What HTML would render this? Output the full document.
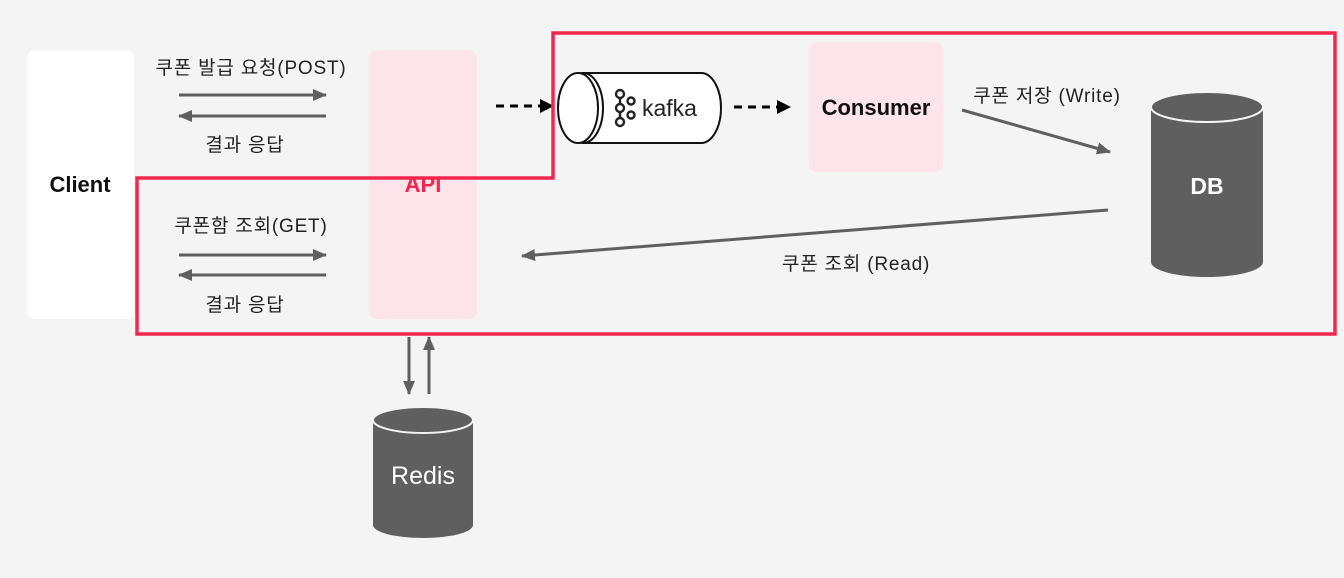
<!DOCTYPE html>
<html><head><meta charset="utf-8"><style>
body{margin:0;width:1344px;height:578px;background:#f4f4f4;overflow:hidden;font-family:"Liberation Sans","Noto Sans CJK KR",sans-serif}
</style></head><body>
<svg width="1344" height="578" viewBox="0 0 1344 578" xmlns="http://www.w3.org/2000/svg" style="position:absolute;left:0;top:0">
<defs>
<marker id="ag" markerWidth="14" markerHeight="12" refX="13" refY="6" orient="auto" markerUnits="userSpaceOnUse"><path d="M0,0 L14,6 L0,12 z" fill="#5f5f5f"/></marker>
<marker id="ak" markerWidth="14" markerHeight="14" refX="13" refY="7" orient="auto" markerUnits="userSpaceOnUse"><path d="M0,0 L14,7 L0,14 z" fill="#000"/></marker>
</defs>
<rect x="27" y="50" width="107" height="269" rx="8" fill="#fff"/>
<rect x="369" y="50" width="108" height="269" rx="8" fill="#fde4ea"/>
<rect x="809" y="42" width="134" height="130" rx="8" fill="#fde4ea"/>
<text x="80" y="192" font-size="22" font-weight="bold" text-anchor="middle" fill="#111">Client</text>
<text x="423" y="192" font-size="22" font-weight="bold" text-anchor="middle" fill="#f0264f">API</text>
<text x="876" y="115" font-size="22" font-weight="bold" text-anchor="middle" fill="#111">Consumer</text>
<g font-size="19" fill="#222" text-anchor="middle" letter-spacing="0.8">
<text x="251" y="74">쿠폰 발급 요청(POST)</text>
<text x="245" y="151">결과 응답</text>
<text x="251" y="232">쿠폰함 조회(GET)</text>
<text x="245" y="311">결과 응답</text>
<text x="1047" y="102">쿠폰 저장 (Write)</text>
<text x="856" y="270">쿠폰 조회 (Read)</text>
</g>
<g stroke="#5f5f5f" stroke-width="3">
<line x1="179" y1="95" x2="326" y2="95" marker-end="url(#ag)"/>
<line x1="326" y1="116" x2="179" y2="116" marker-end="url(#ag)"/>
<line x1="179" y1="255" x2="326" y2="255" marker-end="url(#ag)"/>
<line x1="326" y1="275" x2="179" y2="275" marker-end="url(#ag)"/>
<line x1="962" y1="110" x2="1110" y2="152" marker-end="url(#ag)"/>
<line x1="1108" y1="210" x2="522" y2="256" marker-end="url(#ag)"/>
<line x1="409" y1="337" x2="409" y2="394" marker-end="url(#ag)"/>
<line x1="429" y1="394" x2="429" y2="337" marker-end="url(#ag)"/>
</g>
<g stroke="#000" stroke-width="3" stroke-dasharray="8,6">
<line x1="496" y1="106" x2="553" y2="106" marker-end="url(#ak)"/>
<line x1="734" y1="107" x2="790" y2="107" marker-end="url(#ak)"/>
</g>
<path d="M1151,107 a56,15 0 0 1 112,0 v155 a56,15 0 0 1 -112,0 z" fill="#5f5f5f"/>
<ellipse cx="1207" cy="107" rx="56" ry="15" fill="#5f5f5f" stroke="#f4f4f4" stroke-width="2"/>
<text x="1207" y="194" font-size="23" font-weight="bold" fill="#fff" text-anchor="middle">DB</text>
<path d="M373,420 a50,13 0 0 1 100,0 v105 a50,13 0 0 1 -100,0 z" fill="#5f5f5f"/>
<ellipse cx="423" cy="420" rx="50" ry="13" fill="#5f5f5f" stroke="#f4f4f4" stroke-width="2"/>
<text x="423" y="484" font-size="25" fill="#fff" text-anchor="middle">Redis</text>
<path d="M584,73 H701 a20,35 0 0 1 0,70 H584 z" fill="#fff" stroke="#111" stroke-width="2"/>
<ellipse cx="583" cy="108" rx="20" ry="35" fill="#fff" stroke="#111" stroke-width="2"/>
<ellipse cx="578" cy="108" rx="20" ry="35" fill="#fff" stroke="#111" stroke-width="2"/>
<g fill="none" stroke="#222" stroke-width="2.4">
<circle cx="620" cy="94" r="4"/><circle cx="620" cy="108" r="4"/><circle cx="620" cy="122" r="4"/>
<circle cx="631" cy="101" r="3.5"/><circle cx="631" cy="115" r="3.5"/>
<line x1="620" y1="98" x2="620" y2="104"/><line x1="620" y1="112" x2="620" y2="118"/>
</g>
<text x="642" y="116" font-size="23" fill="#222">kafka</text>
<path d="M137,178 H553 V33 H1335 V334 H137 Z" fill="none" stroke="#f0264f" stroke-width="3.5"/>
</svg>
</body></html>
